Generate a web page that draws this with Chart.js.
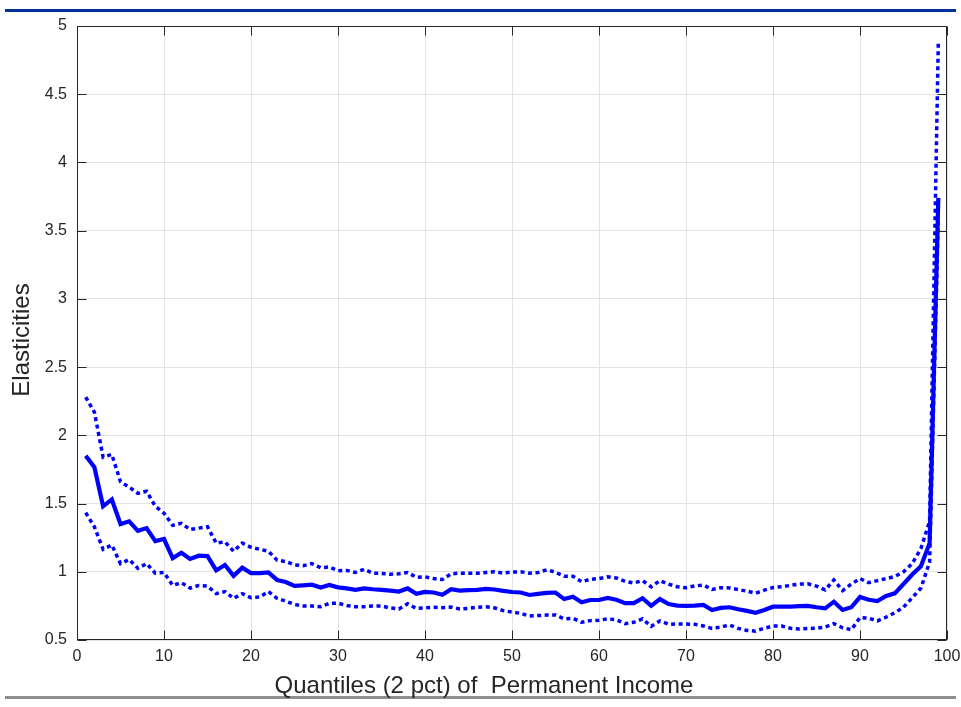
<!DOCTYPE html>
<html><head><meta charset="utf-8">
<script src="https://cdn.jsdelivr.net/npm/chart.js@4/dist/chart.umd.min.js"></script>
<style>html,body{margin:0;padding:0;background:#fff;}canvas{display:block;}</style>
</head><body>
<canvas id="c" width="961" height="707"></canvas>
<script>
const quantiles = [1,2,3,4,5,6,7,8,9,10,11,12,13,14,15,16,17,18,19,20,21,22,23,24,25,26,27,28,29,30,31,32,33,34,35,36,37,38,39,40,41,42,43,44,45,46,47,48,49,50,51,52,53,54,55,56,57,58,59,60,61,62,63,64,65,66,67,68,69,70,71,72,73,74,75,76,77,78,79,80,81,82,83,84,85,86,87,88,89,90,91,92,93,94,95,96,97,98,99];
const estimate = [1.85,1.766,1.48,1.53,1.35,1.37,1.30,1.32,1.225,1.24,1.10,1.14,1.094,1.118,1.115,1.01,1.05,0.97,1.03,0.99,0.99,0.995,0.94,0.925,0.896,0.90,0.905,0.884,0.903,0.886,0.878,0.868,0.878,0.872,0.868,0.862,0.855,0.878,0.838,0.852,0.848,0.832,0.872,0.862,0.865,0.868,0.874,0.87,0.86,0.852,0.848,0.83,0.838,0.845,0.848,0.80,0.817,0.776,0.793,0.793,0.808,0.795,0.77,0.77,0.806,0.75,0.80,0.764,0.752,0.75,0.752,0.757,0.72,0.735,0.74,0.725,0.713,0.70,0.72,0.744,0.745,0.745,0.748,0.75,0.74,0.732,0.781,0.72,0.74,0.815,0.795,0.786,0.823,0.842,0.91,0.98,1.04,1.21,3.74];
const upperBound = [2.28,2.17,1.84,1.86,1.66,1.62,1.575,1.59,1.48,1.43,1.34,1.355,1.31,1.32,1.33,1.21,1.22,1.15,1.21,1.18,1.165,1.15,1.085,1.075,1.05,1.045,1.06,1.03,1.035,1.008,1.01,0.995,1.018,0.99,0.988,0.982,0.985,0.995,0.96,0.963,0.95,0.943,0.985,0.99,0.99,0.99,0.995,1.0,0.99,0.998,1.0,0.99,0.995,1.015,0.996,0.968,0.967,0.927,0.945,0.95,0.963,0.955,0.93,0.918,0.935,0.89,0.935,0.91,0.89,0.883,0.896,0.903,0.87,0.883,0.882,0.87,0.858,0.843,0.865,0.885,0.89,0.9,0.91,0.912,0.895,0.867,0.94,0.862,0.91,0.95,0.92,0.935,0.95,0.965,1.0,1.06,1.17,1.37,4.88];
const lowerBound = [1.433,1.33,1.165,1.196,1.06,1.09,1.025,1.06,0.99,0.995,0.90,0.92,0.88,0.90,0.895,0.84,0.855,0.805,0.84,0.81,0.815,0.855,0.805,0.785,0.76,0.75,0.749,0.744,0.768,0.77,0.752,0.744,0.744,0.749,0.749,0.735,0.727,0.765,0.732,0.735,0.74,0.737,0.742,0.727,0.732,0.74,0.744,0.735,0.715,0.705,0.695,0.676,0.679,0.683,0.683,0.655,0.659,0.63,0.642,0.645,0.655,0.648,0.62,0.63,0.655,0.60,0.64,0.615,0.617,0.617,0.615,0.603,0.585,0.595,0.61,0.585,0.57,0.565,0.586,0.602,0.603,0.586,0.581,0.584,0.586,0.595,0.62,0.59,0.575,0.665,0.66,0.64,0.667,0.70,0.74,0.81,0.88,1.07,3.6];
const xTickValues = [0,10,20,30,40,50,60,70,80,90,100];
const yTickValues = [0.5,1,1.5,2,2.5,3,3.5,4,4.5,5];
const yTickLabels = ['0.5','1','1.5','2','2.5','3','3.5','4','4.5','5'];
const xTitle = 'Quantiles (2 pct) of  Permanent Income';
const yTitle = 'Elasticities';

const toPoints = arr => quantiles.map((q, i) => ({x: q, y: arr[i]}));
const LINE = '#0000ff';
const FONT = "'Liberation Sans', Arial, Helvetica, sans-serif";
const TEXT = '#262626';

const framePlugin = {
  id: 'frame',
  beforeDraw(chart) {
    const ctx = chart.ctx;
    ctx.save();
    ctx.fillStyle = '#ffffff';
    ctx.fillRect(0, 0, chart.width, chart.height);
    ctx.fillStyle = '#00339a';
    ctx.fillRect(5, 9, 951, 3);
    ctx.fillStyle = '#8f8f8f';
    ctx.fillRect(5, 696, 951, 3);
    ctx.restore();
  },
  afterDraw(chart) {
    const {ctx, chartArea: a, scales: {x, y}} = chart;
    const L = Math.round(a.left) + 0.5, R = Math.round(a.right) - 0.5;
    const T = Math.round(a.top) + 0.5, B = Math.round(a.bottom) - 0.5;
    ctx.save();
    ctx.strokeStyle = TEXT;
    ctx.lineWidth = 1;
    ctx.strokeRect(L, T, R - L, B - T);
    const tl = 9;
    ctx.beginPath();
    xTickValues.forEach(v => {
      const px = Math.round(x.getPixelForValue(v)) + 0.5;
      ctx.moveTo(px, B); ctx.lineTo(px, B - tl);
      ctx.moveTo(px, T); ctx.lineTo(px, T + tl);
    });
    yTickValues.forEach(v => {
      const py = Math.round(y.getPixelForValue(v)) + 0.5;
      ctx.moveTo(L, py); ctx.lineTo(L + tl, py);
      ctx.moveTo(R, py); ctx.lineTo(R - tl, py);
    });
    ctx.stroke();
    // axis titles
    ctx.fillStyle = TEXT;
    ctx.font = '24px ' + FONT;
    ctx.textAlign = 'center';
    ctx.textBaseline = 'middle';
    ctx.fillText(xTitle, 484, 686);
    ctx.translate(22, 340);
    ctx.rotate(-Math.PI / 2);
    ctx.fillText(yTitle, 0, 0);
    ctx.restore();
  }
};

new Chart(document.getElementById('c'), {
  type: 'line',
  data: {
    datasets: [
      {label: 'upper', data: toPoints(upperBound), borderColor: LINE, borderWidth: 3.5, borderDash: [4, 3.5], pointRadius: 0, tension: 0, fill: false},
      {label: 'lower', data: toPoints(lowerBound), borderColor: LINE, borderWidth: 3.5, borderDash: [4, 3.5], pointRadius: 0, tension: 0, fill: false},
      {label: 'estimate', data: toPoints(estimate), borderColor: LINE, borderWidth: 4.2, pointRadius: 0, tension: 0, fill: false}
    ]
  },
  options: {
    responsive: false,
    animation: false,
    events: [],
    layout: {padding: {left: 0, right: 14, top: 26, bottom: 0}},
    plugins: {legend: {display: false}, tooltip: {enabled: false}},
    scales: {
      x: {
        type: 'linear', min: 0, max: 100,
        afterBuildTicks: s => { s.ticks = xTickValues.map(v => ({value: v})); },
        afterFit: s => { s.height = 67; s.paddingLeft = 0; s.paddingRight = 0; },
        grid: {color: '#e3e3e3', drawTicks: false},
        border: {display: false},
        ticks: {color: TEXT, padding: 7, maxRotation: 0, autoSkip: false, font: {family: FONT, size: 16}, callback: v => String(v)},
        title: {display: false}
      },
      y: {
        type: 'linear', min: 0.5, max: 5,
        afterBuildTicks: s => { s.ticks = yTickValues.map(v => ({value: v})); },
        afterFit: s => { s.width = 77; s.paddingTop = 0; s.paddingBottom = 0; },
        grid: {color: '#e3e3e3', drawTicks: false},
        border: {display: false},
        ticks: {color: TEXT, padding: 10, autoSkip: false, font: {family: FONT, size: 16},
          callback: (v) => { const i = yTickValues.indexOf(v); return i >= 0 ? yTickLabels[i] : ''; }},
        title: {display: false}
      }
    }
  },
  plugins: [framePlugin]
});
</script>
</body></html>
